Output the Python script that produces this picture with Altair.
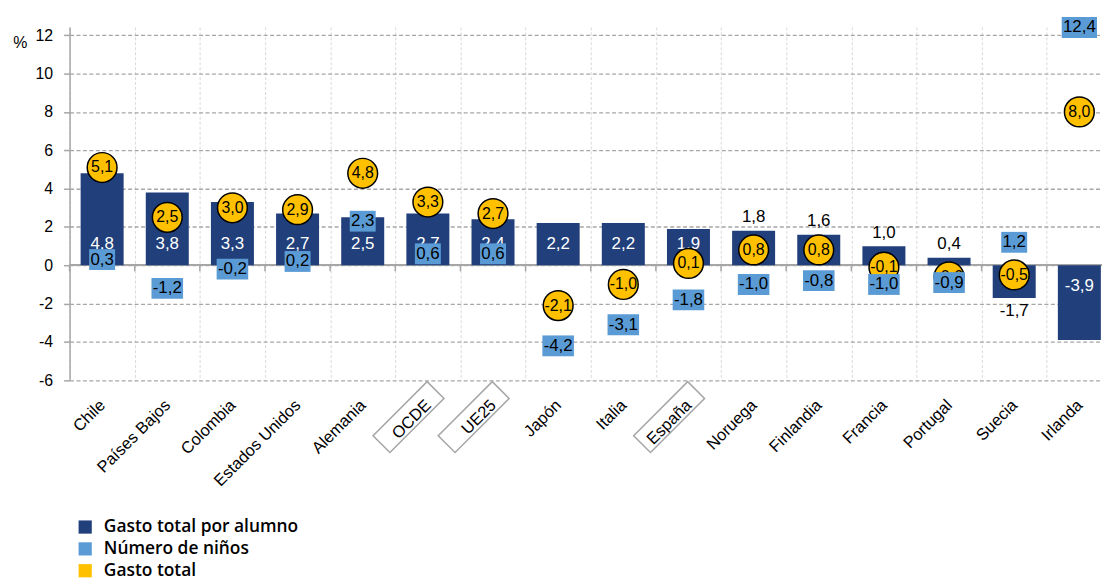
import altair as alt
import pandas as pd
import numpy as np

# ---------------- data ----------------
categorias = ["Chile", "Países Bajos", "Colombia", "Estados Unidos", "Alemania",
              "OCDE", "UE25", "Japón", "Italia", "España", "Noruega", "Finlandia",
              "Francia", "Portugal", "Suecia", "Irlanda"]
gasto_por_alumno = [4.8, 3.8, 3.3, 2.7, 2.5, 2.7, 2.4, 2.2, 2.2, 1.9, 1.8, 1.6, 1.0, 0.4, -1.7, -3.9]
numero_ninos = [0.3, -1.2, -0.2, 0.2, 2.3, 0.6, 0.6, -4.2, -3.1, -1.8, -1.0, -0.8, -1.0, -0.9, 1.2, 12.4]
gasto_total = [5.1, 2.5, 3.0, 2.9, 4.8, 3.3, 2.7, -2.1, -1.0, 0.1, 0.8, 0.8, -0.1, -0.6, -0.5, 8.0]
series = ["Gasto total por alumno", "Número de niños", "Gasto total"]
destacados = ["OCDE", "UE25", "España"]
y_ticks = [-6, -4, -2, 0, 2, 4, 6, 8, 10, 12]

# ---------------- style ----------------
C_DARK = "#213f7a"
C_LIGHT = "#5b9bd5"
C_YELLOW = "#ffc000"
C_GRID = "#a6a6a6"
FONT = "Liberation Sans"
W, H = 1050, 356
Y_MIN, Y_MAX = -6, 12.43
PX_PER_UNIT = H / (Y_MAX - Y_MIN)
BAND = W / len(categorias)

CHAR_W = {",": 0.278, "-": 0.333}


def fmt(v):
    return f"{v:.1f}".replace(".", ",")


def text_w(s, fs):
    return sum(CHAR_W.get(c, 0.556) for c in s) * fs


BOX_UNIT = 20.0  # half of sqrt(size)


def rect_path(w, h, unit=BOX_UNIT):
    a, b = w / 2 / unit, h / 2 / unit
    return f"M{-a:.4f},{-b:.4f}L{a:.4f},{-b:.4f}L{a:.4f},{b:.4f}L{-a:.4f},{b:.4f}Z"


df = pd.DataFrame({
    "pais": categorias,
    "alumno": gasto_por_alumno,
    "ninos": numero_ninos,
    "total": gasto_total,
})
df["serie"] = series[0]
df["lab_alumno"] = df["alumno"].map(fmt)
df["lab_ninos"] = df["ninos"].map(fmt)
df["lab_total"] = df["total"].map(fmt)
df["inside"] = df["alumno"].abs() >= 1.85
df["lab_y"] = np.sign(df["alumno"]) * 1.1
df["box_shape"] = [rect_path(text_w(s, 17) + 2.5, 21) for s in df["lab_ninos"]]

d_in = df[df["inside"]]
d_up = df[(~df["inside"]) & (df["alumno"] >= 0)]
d_dn = df[(~df["inside"]) & (df["alumno"] < 0)]
d_frames = pd.DataFrame({"pais": destacados, "base": [Y_MIN] * len(destacados)})

x_scale = alt.Scale(domain=categorias, paddingInner=0, paddingOuter=0)
y_scale = alt.Scale(domain=[Y_MIN, Y_MAX], nice=False)

label_axis = alt.Axis(
    title=None, labelAngle=315, labelAlign="right", labelBaseline="middle",
    labelFont=FONT, labelFontSize=16.5, labelColor="black",
    labelPadding=22, labelOffset=0, domain=False, ticks=False,
    grid=True, tickBand="extent", gridColor="#d9d9d9", gridDash=[3, 2], gridWidth=1,
)
y_axis = alt.Axis(
    values=y_ticks, labelExpr="'' + datum.value", grid=True, gridColor=C_GRID,
    gridDash=[4, 2.5], gridWidth=1.3, domain=True, domainColor=C_GRID, domainWidth=1.5,
    ticks=True, tickColor=C_GRID, tickWidth=1.5, tickSize=6,
    labelFont=FONT, labelFontSize=16, labelColor="black", labelPadding=11,
    title="%", titleAngle=0, titleX=-50, titleY=16, titleAlign="center",
    titleBaseline="middle", titleFont=FONT, titleFontSize=16,
    titleFontWeight="normal", titleColor="black",
)


def X():
    return alt.X("pais:N", sort=categorias, scale=x_scale, axis=label_axis)


def Y(field):
    return alt.Y(field, type="quantitative", scale=y_scale, axis=y_axis)


def Yd(value):
    return alt.Y(datum=value, type="quantitative", scale=y_scale, axis=y_axis)


legend = alt.Legend(
    orient="none", legendX=7, legendY=495, title=None, direction="vertical",
    symbolType="square", symbolSize=177, symbolStrokeWidth=0,
    labelFont="Open Sans", labelFontSize=17.5, labelFontWeight=600, labelLimit=0,
    labelColor="black", rowPadding=3, labelOffset=10, padding=0, offset=0,
)

zero_line = alt.Chart(df).mark_rule(color=C_GRID, strokeWidth=1.5).encode(y=Yd(0))
zero_ticks = alt.Chart(df).mark_rule(color=C_GRID, strokeWidth=1.5,
                                     xOffset=-BAND / 2).encode(
    x=X(), y=Yd(0), y2=alt.datum(-6 / PX_PER_UNIT))

bars = alt.Chart(df).mark_bar(width={"band": 0.66}).encode(
    x=X(),
    y=Y("alumno"),
    color=alt.Color("serie:N", scale=alt.Scale(domain=series, range=[C_DARK, C_LIGHT, C_YELLOW]),
                    legend=legend),
)

txt_in = alt.Chart(d_in).mark_text(font=FONT, fontSize=17, color="white",
                                   baseline="middle").encode(
    x=X(), y=Y("lab_y"), text="lab_alumno:N")
txt_up = alt.Chart(d_up).mark_text(font=FONT, fontSize=17, color="black",
                                   baseline="middle", dy=-13.5).encode(
    x=X(), y=Y("alumno"), text="lab_alumno:N")
txt_dn = alt.Chart(d_dn).mark_text(font=FONT, fontSize=17, color="black",
                                   baseline="middle", dy=13.5).encode(
    x=X(), y=Y("alumno"), text="lab_alumno:N")

circles = alt.Chart(df).mark_circle(size=900, color=C_YELLOW, stroke="black",
                                    strokeWidth=1.5, opacity=1).encode(
    x=X(), y=Y("total"))
circ_txt = alt.Chart(df).mark_text(font=FONT, fontSize=16, color="black",
                                   baseline="middle").encode(
    x=X(), y=Y("total"), text="lab_total:N")

boxes = alt.Chart(df).mark_point(filled=True, fill=C_LIGHT, strokeWidth=0,
                                 opacity=1, size=(2 * BOX_UNIT) ** 2).encode(
    x=X(), y=Y("ninos"), shape=alt.Shape("box_shape:N", scale=None, legend=None))
box_txt = alt.Chart(df).mark_text(font=FONT, fontSize=17, color="black",
                                  baseline="middle").encode(
    x=X(), y=Y("ninos"), text="lab_ninos:N")

frames = alt.Chart(d_frames).mark_point(
    shape="M-1,-0.3117L1,-0.3117L1,0.3117L-1,0.3117Z", size=77 ** 2, angle=315,
    filled=False, stroke=C_GRID, strokeWidth=1.5, opacity=1,
    xOffset=-19.5, yOffset=37,
).encode(x=X(), y=Y("base"))

chart = alt.layer(
    zero_line, zero_ticks, bars, txt_in, txt_up, txt_dn, circles, circ_txt,
    boxes, box_txt, frames
).properties(
    width=W, height=H,
    padding={"left": 62, "top": 17, "right": -10, "bottom": 199},
    autosize=alt.AutoSizeParams(type="none"),
).configure_view(stroke=None)

chart.save("out.html", embed_options={"renderer": "svg", "actions": False})
